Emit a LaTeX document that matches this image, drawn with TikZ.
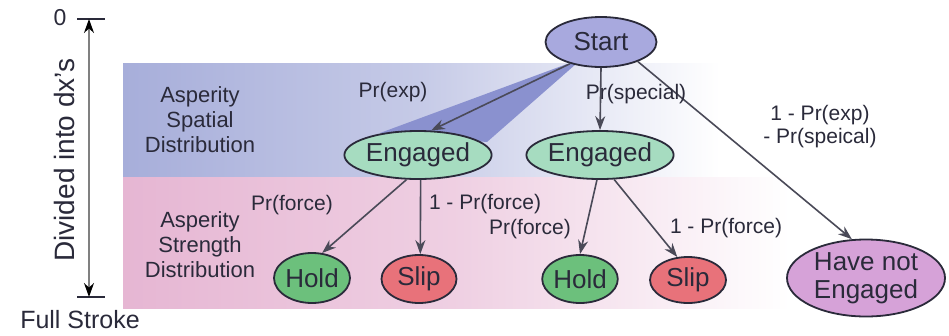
\documentclass[tikz,border=0pt]{standalone}
\usepackage{fontspec}
\setmainfont{Liberation Sans}
\usetikzlibrary{shapes.geometric,arrows.meta}
\definecolor{bandblue}{HTML}{A7AEDA}
\definecolor{bandpink}{HTML}{E6B6D3}
\definecolor{wedge}{HTML}{8A91CF}
\definecolor{startc}{HTML}{A8A9DE}
\definecolor{engc}{HTML}{A6DCC0}
\definecolor{holdc}{HTML}{6CC07C}
\definecolor{slipc}{HTML}{E8727A}
\definecolor{hnec}{HTML}{D6A2D8}
\definecolor{ink}{HTML}{2A2A3A}
\begin{document}
\begin{tikzpicture}[x=1pt,y=-1pt,
  st/.style={ellipse,draw=ink,line width=1.8pt,inner sep=0pt,
    font=\fontsize{26}{28}\selectfont,text=ink,align=center},
  lab/.style={font=\fontsize{21}{23}\selectfont,text=ink,inner sep=0pt,align=center},
  side/.style={font=\fontsize{22}{25}\selectfont,text=ink,inner sep=0pt,align=center},
  arr/.style={-{Stealth[length=14pt,width=10pt]},line width=1.6pt,draw=ink!85}]
\useasboundingbox (0,0) rectangle (949,335);
\fill[white] (0,0) rectangle (949,335);
% bands
\shade[left color=bandblue,right color=white,middle color=bandblue!65] (123,63) rectangle (720,177);
\shade[left color=bandpink,right color=white,middle color=bandpink!65] (123,177) rectangle (790,308);
% left axis
\node[lab,font=\fontsize{23}{25}\selectfont] (zero) at (60,18) {0};
\coordinate (ttop) at (89,19);
\coordinate (tbot) at (89,297);
\draw[line width=1.6pt,ink] (77,19) -- (105,19);
\draw[line width=1.6pt,ink] (77,297) -- (105,297);
\draw[line width=1.6pt,black!50,{Stealth[length=14pt,width=10pt,black]}-{Stealth[length=14pt,width=10pt,black]}] (ttop) -- (tbot);
\node[side,font=\fontsize{28}{30}\selectfont,rotate=90] (div) at (64,160) {Divided into dx's};
\node[side,font=\fontsize{25}{27}\selectfont] (full) at (80,320) {Full Stroke};
\node[side] (asd) at (200,120) {Asperity\\Spatial\\Distribution};
\node[side] (ast) at (200,245) {Asperity\\Strength\\Distribution};
% wedge
\fill[wedge] (567,64) -- (380,133) -- (487,142) -- (576,64) -- cycle;
% nodes
\node[st,fill=startc,minimum width=111pt,minimum height=50pt] (start) at (601,42) {Start};
\node[st,fill=engc,minimum width=147pt,minimum height=48pt] (engL) at (418,155) {Engaged};
\node[st,fill=engc,minimum width=145pt,minimum height=48pt] (engR) at (600,155) {Engaged};
\node[st,fill=holdc,minimum width=76pt,minimum height=50pt] (holdL) at (312,278) {Hold};
\node[st,fill=slipc,minimum width=75pt,minimum height=48pt] (slipL) at (419,279) {Slip};
\node[st,fill=holdc,minimum width=75pt,minimum height=48pt] (holdR) at (580,279) {Hold};
\node[st,fill=slipc,minimum width=76pt,minimum height=46pt] (slipR) at (688,280) {Slip};
\node[st,fill=hnec,minimum width=158pt,minimum height=77pt] (hne) at (866,278) {Have not\\Engaged};
% arrows
\draw[arr] (start.-145) -- (engL.62);
\draw[arr] (start.south) -- (engR.north);
\draw[arr] (start.-28) -- (hne.110);
\draw[arr] (engL.-115) -- (holdL.68);
\draw[arr] (engL.-84) -- (slipL.87);
\draw[arr] (engR.-97) -- (holdR.90);
\draw[arr] (engR.-60) -- (slipR.115);
% labels
\node[lab] (lexp) at (393,92) {Pr(exp)};
\node[lab] (lspec) at (636,94) {Pr(special)};
\node[lab] (lne) at (820,127) {1 - Pr(exp)\\- Pr(speical)};
\node[lab] (lf1) at (292,205) {Pr(force)};
\node[lab] (lf2) at (485,204) {1 - Pr(force)};
\node[lab] (lf3) at (530,229) {Pr(force)};
\node[lab] (lf4) at (726,228) {1 - Pr(force)};
\end{tikzpicture}
\end{document}
